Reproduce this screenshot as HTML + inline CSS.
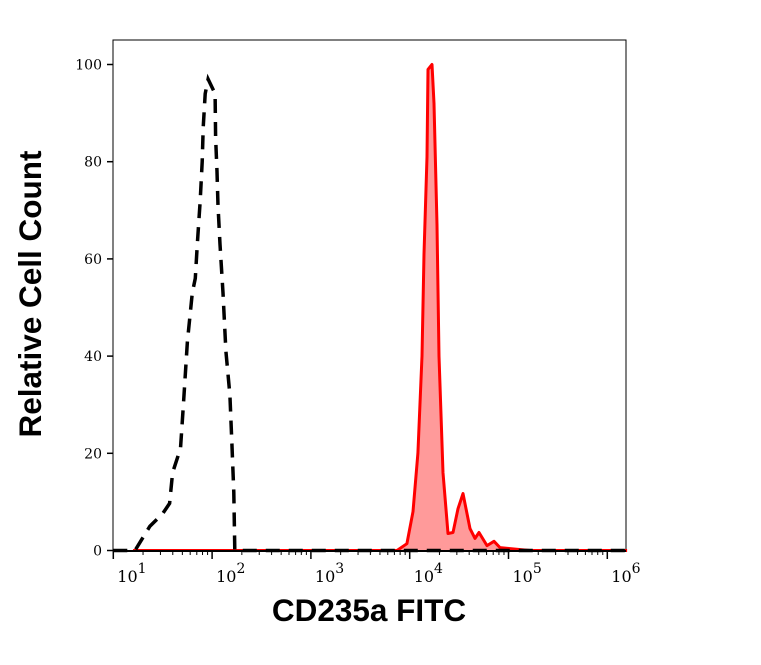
<!DOCTYPE html>
<html><head><meta charset="utf-8"><style>
body{margin:0;background:#fff;}
svg{display:block;font-family:"DejaVu Serif","Liberation Serif",serif;}
</style></head><body>
<svg id="chart" width="761" height="665" viewBox="0 0 761 665">
<rect x="113" y="40" width="513" height="511" fill="none" stroke="#000" stroke-width="1"/>
<g id="series"></g>
<g id="axes"></g>
<text x="41" y="294" transform="rotate(-90 41 294)" text-anchor="middle" font-family="Liberation Sans, sans-serif" font-weight="bold" font-size="31.5">Relative Cell Count</text>
<text x="369" y="621" text-anchor="middle" font-family="Liberation Sans, sans-serif" font-weight="bold" font-size="31.5">CD235a FITC</text>
</svg>
<script>
const yTicks=[0,20,40,60,80,100];
const xDecades=[1,2,3,4,5,6];
const blackX=[1.0,1.22,1.37,1.50,1.57,1.60,1.68,1.71,1.75,1.80,1.83,1.85,1.88,1.90,1.91,1.93,1.96,2.03,2.035,2.05,2.06,2.08,2.11,2.14,2.18,2.20,2.22,2.23,6.2];
const blackY=[0,0,5,7.6,9.7,16,21,30,43,53,56,63,72,80,87,94,97,94,85,78,71,63,53,41,32,22,12,0,0];
const redX=[1.2,3.871,3.972,4.033,4.083,4.124,4.145,4.175,4.185,4.226,4.246,4.276,4.297,4.337,4.388,4.438,4.489,4.539,4.610,4.661,4.701,4.782,4.853,4.914,5.015,5.217,6.2];
const redY=[0,0,1.4,8,20,40,61,81,99,100,92,67,40,16,3.5,3.7,8.6,11.7,4.5,2.5,3.7,1,1.9,0.6,0.4,0,0];
const NS='http://www.w3.org/2000/svg';
const xs=v=>113.3+(v-1)*98.8;
const ys=v=>550.5-v*4.86;
const axes=document.getElementById('axes'),series=document.getElementById('series');
function mk(t,a,p){const e=document.createElementNS(NS,t);for(const k in a)e.setAttribute(k,a[k]);p.appendChild(e);return e;}
let d='M'+xs(redX[0])+' '+ys(0);
redX.forEach((x,i)=>{d+=' L'+xs(x).toFixed(1)+' '+ys(redY[i]).toFixed(1);});
const rf=mk('path',{d:d+' Z',fill:'#ff9a9a',stroke:'none'},series);


const rl=mk('path',{d:d,fill:'none',stroke:'#ff0000','stroke-width':3,'stroke-linejoin':'round'},series);


let db='';
blackX.forEach((x,i)=>{db+=(i?' L':'M')+xs(x).toFixed(1)+' '+ys(blackY[i]).toFixed(1);});
const bl=mk('path',{d:db,fill:'none',stroke:'#000','stroke-width':3.5,'stroke-dasharray':'14,9'},series);


mk('line',{x1:113,y1:551,x2:626,y2:551,stroke:'#000','stroke-width':2},axes);
xDecades.forEach(dv=>{
  const x=xs(dv);
  mk('line',{x1:x,y1:551,x2:x,y2:559,stroke:'#000','stroke-width':1.5},axes);
  if(dv<6){for(let m=2;m<10;m++){const xm=xs(dv+Math.log10(m));mk('line',{x1:xm,y1:551,x2:xm,y2:555,stroke:'#000','stroke-width':1},axes);}}
  const t=mk('text',{x:x+4,y:582,'font-size':16,'text-anchor':'start'},axes);
  
  
  t.textContent='10';
  const s=mk('tspan',{dy:-9,'font-size':14},t);s.textContent=dv;
});
yTicks.forEach(v=>{
  const y=ys(v);
  mk('line',{x1:107,y1:y,x2:113,y2:y,stroke:'#000','stroke-width':1.5},axes);
  const t=mk('text',{x:102,y:y+5,'font-size':14,'text-anchor':'end'},axes);
  
  
  t.textContent=v;
});
</script>
</body></html>
